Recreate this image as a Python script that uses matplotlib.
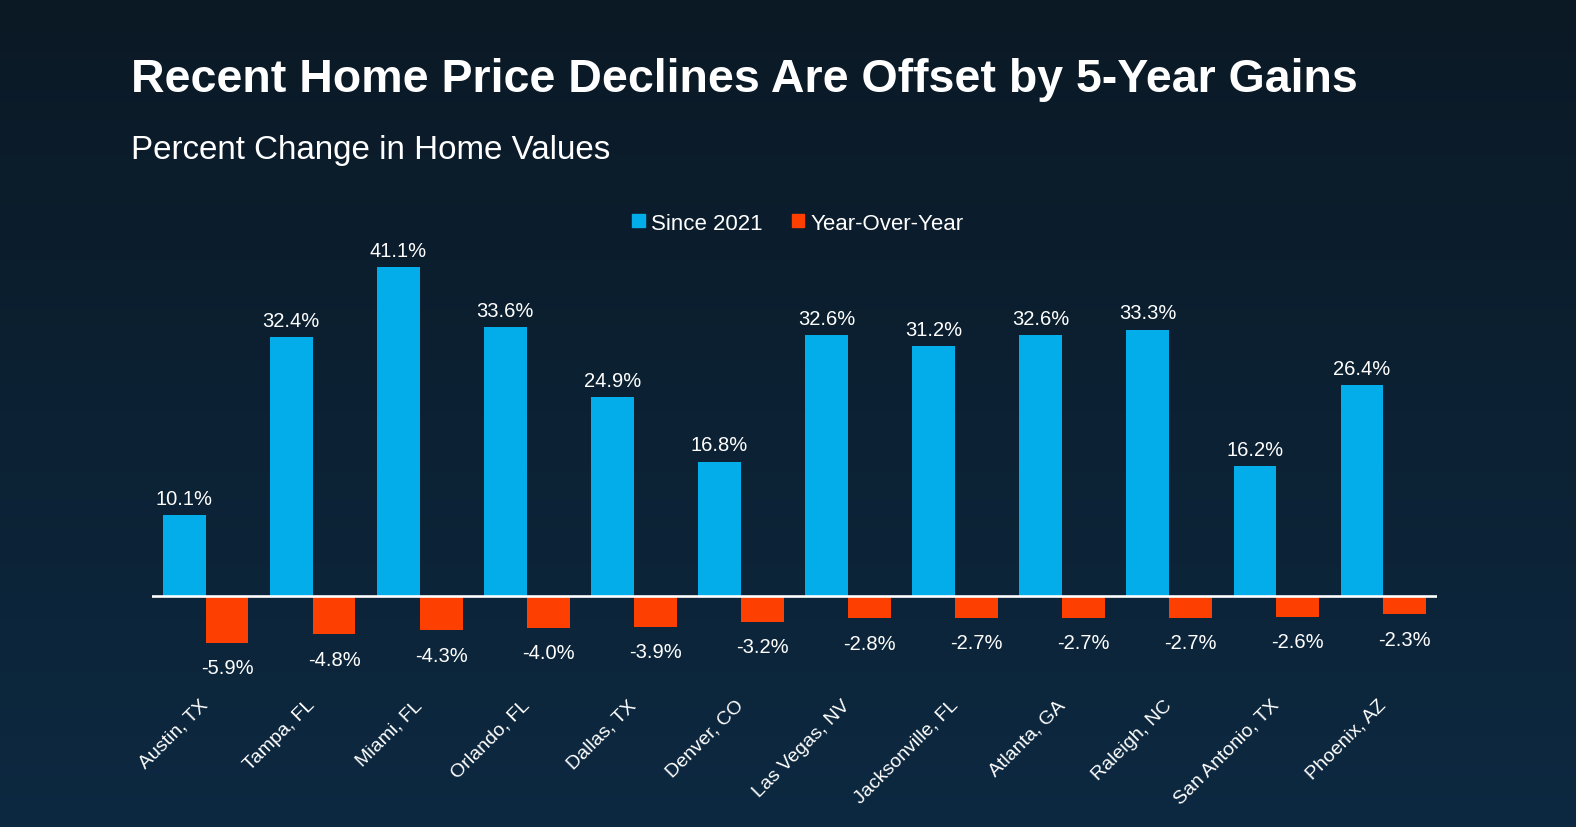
import numpy as np
import matplotlib
matplotlib.use('Agg')
import matplotlib.pyplot as plt
from matplotlib.patches import Patch

cities = ["Austin, TX", "Tampa, FL", "Miami, FL", "Orlando, FL", "Dallas, TX",
          "Denver, CO", "Las Vegas, NV", "Jacksonville, FL", "Atlanta, GA",
          "Raleigh, NC", "San Antonio, TX", "Phoenix, AZ"]
since_2021 = [10.1, 32.4, 41.1, 33.6, 24.9, 16.8, 32.6, 31.2, 32.6, 33.3, 16.2, 26.4]
year_over_year = [-5.9, -4.8, -4.3, -4.0, -3.9, -3.2, -2.8, -2.7, -2.7, -2.7, -2.6, -2.3]

BLUE = '#03ade9'
RED = '#fe3f02'
W, H = 1576, 828

plt.rcParams['font.family'] = ['Liberation Sans', 'DejaVu Sans']

fig = plt.figure(figsize=(W / 100, H / 100), dpi=100)

# background gradient
bg = fig.add_axes([0, 0, 1, 1], zorder=-10)
grad = np.linspace(0, 1, 256)[:, None]
top = np.array([11, 25, 37]) / 255
bot = np.array([13, 41, 65]) / 255
img = top + (bot - top) * grad[..., None]
bg.imshow(img, aspect='auto', extent=[0, 1, 0, 1], origin='upper')
bg.axis('off')

# main axes: zero line at y=597px, 8 px per unit
ax_left, ax_right, ax_top, ax_bot = 152, 1437, 240, 685
ax = fig.add_axes([ax_left / W, (H - ax_bot) / H, (ax_right - ax_left) / W, (ax_bot - ax_top) / H])
ax.patch.set_alpha(0)
ax.set_ylim(-(ax_bot - 597) / 8.0, (597 - ax_top) / 8.0)
ax.set_xlim(-0.5, len(cities) - 0.5)

x = np.arange(len(cities))
bw = 0.4
b1 = ax.bar(x - bw / 2, since_2021, bw, color=BLUE, zorder=2)
b2 = ax.bar(x + bw / 2, year_over_year, bw, color=RED, zorder=2)
ax.axhline(0, color='white', lw=1.9, zorder=3)

for xi, v in zip(x, since_2021):
    ax.annotate(f"{v:.1f}%", (xi - bw / 2, v), xytext=(0, 8), textcoords='offset points',
                ha='center', va='baseline', color='white', fontsize=14.5)
for xi, v in zip(x, year_over_year):
    ax.annotate(f"{v:.1f}%", (xi + bw / 2, v), xytext=(0, -11), textcoords='offset points',
                ha='center', va='top', color='white', fontsize=14.5)

for s in ax.spines.values():
    s.set_visible(False)
ax.set_yticks([])
ax.set_xticks(x)
ax.set_xticklabels(cities, rotation=45, ha='right', va='center', rotation_mode='anchor',
                   color='white', fontsize=14)
ax.tick_params(axis='x', length=0, pad=13)

handles = [Patch(color=BLUE, label='Since 2021'), Patch(color=RED, label='Year-Over-Year')]
leg = ax.legend(handles=handles, loc='center', bbox_to_anchor=(798 / W, 1 - 224 / H),
                bbox_transform=fig.transFigure, ncol=2, frameon=False, fontsize=16,
                handlelength=0.55, handleheight=0.55, handletextpad=0.3, columnspacing=1.3)
for t in leg.get_texts():
    t.set_color('white')

fig.text(131 / W, 1 - 80 / H, "Recent Home Price Declines Are Offset by 5-Year Gains",
         color='white', fontsize=33.5, fontweight='bold', va='center', ha='left')
fig.text(131 / W, 1 - 150 / H, "Percent Change in Home Values",
         color='white', fontsize=23.9, va='center', ha='left')

fig.savefig('out.png', dpi=100)
